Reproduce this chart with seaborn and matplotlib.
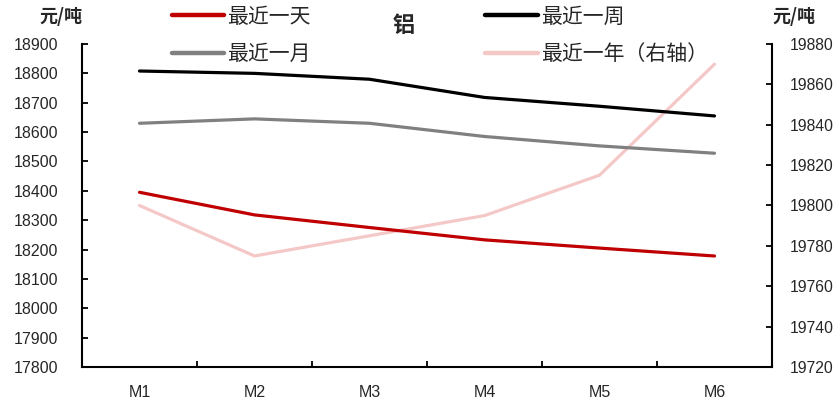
import matplotlib
matplotlib.use("Agg")
import matplotlib.pyplot as plt
import seaborn as sns
import pandas as pd

# Aluminium price curve by contract month (yuan / tonne)
months = ["M1", "M2", "M3", "M4", "M5", "M6"]
last_day = [18395, 18318, 18275, 18233, 18205, 18178]
last_week = [18808, 18800, 18780, 18718, 18688, 18655]
last_month = [18630, 18645, 18630, 18585, 18553, 18528]
last_year = [19800, 19775, 19785, 19795, 19815, 19870]  # right axis

labels = ["最近一天", "最近一周", "最近一月", "最近一年（右轴）"]
colors = ["#C00000", "#000000", "#808080", "#F5C8C8"]

sns.set_theme(style="white")
plt.rcParams["font.family"] = ["Liberation Sans", "Noto Sans CJK SC", "DejaVu Sans"]
cjk = ["Noto Sans CJK SC", "DejaVu Sans"]

pos = list(range(len(months)))
left_df = pd.DataFrame({
    "pos": pos * 3,
    "price": last_day + last_week + last_month,
    "series": [labels[0]] * 6 + [labels[1]] * 6 + [labels[2]] * 6,
})
right_df = pd.DataFrame({"pos": pos, "price": last_year, "series": [labels[3]] * 6})

fig = plt.figure(figsize=(8.36, 4.0), dpi=100)
ax = fig.add_axes([82 / 836, 33 / 400, 690 / 836, 323 / 400])
ax2 = ax.twinx()

sns.lineplot(data=right_df, x="pos", y="price", hue="series",
             palette={labels[3]: colors[3]}, linewidth=2.3, ax=ax2, legend=False)
sns.lineplot(data=left_df, x="pos", y="price", hue="series",
             palette={labels[i]: colors[i] for i in range(3)},
             linewidth=2.3, ax=ax, legend=False)

# draw the left-axis lines above the right-axis line
ax.set_zorder(ax2.get_zorder() + 1)
ax.patch.set_visible(False)

ax.set_xlim(-0.5, 5.5)
ax.set_ylim(17800, 18900)
ax.set_yticks(range(17800, 18901, 100))
ax2.set_ylim(19720, 19880)
ax2.set_yticks(range(19720, 19881, 20))

ax.set_xticks([p + 0.5 for p in pos[:-1]], minor=True)
ax.set_xticks(pos)
ax.set_xticklabels(months)
ax.set_xlabel("")
ax.set_ylabel("")
ax2.set_ylabel("")

for a in (ax, ax2):
    for s in a.spines.values():
        s.set_visible(False)
ax.spines["left"].set_visible(True)
ax.spines["bottom"].set_visible(True)
ax2.spines["right"].set_visible(True)
for s in (ax.spines["left"], ax.spines["bottom"], ax2.spines["right"]):
    s.set_color("black")
    s.set_linewidth(1.5)

ax.tick_params(axis="y", which="major", direction="in", length=4, width=1.3,
               color="black", left=True, labelsize=11.5, pad=17)
ax.tick_params(axis="x", which="major", length=0, labelsize=11.5, pad=13)
ax.tick_params(axis="x", which="minor", direction="in", length=4, width=1.3,
               color="black", bottom=True)
ax2.tick_params(axis="y", direction="in", length=4, width=1.3, color="black",
                right=True, labelsize=11.3, pad=13)

fig.text(61 / 836, 1 - 17 / 400, "元/吨", ha="center", va="center",
         fontsize=13, fontweight="bold", family=cjk)
fig.text(794 / 836, 1 - 17 / 400, "元/吨", ha="center", va="center",
         fontsize=13, fontweight="bold", family=cjk)
fig.text(404 / 836, 1 - 25 / 400, "铝", ha="center", va="center",
         fontsize=16, fontweight="bold", family=cjk)

handles = [plt.Line2D([], [], color=c, linewidth=3.2) for c in colors]
order = [0, 2, 1, 3]
leg = fig.legend([handles[i] for i in order], [labels[i] for i in order],
                 ncol=2, loc="upper left", bbox_to_anchor=(153 / 836, 1 + 13 / 400),
                 frameon=False, handlelength=2.5, handletextpad=0.15,
                 columnspacing=8.4, labelspacing=0.75,
                 prop={"family": cjk, "size": 15})

fig.savefig("out.png", dpi=100)
